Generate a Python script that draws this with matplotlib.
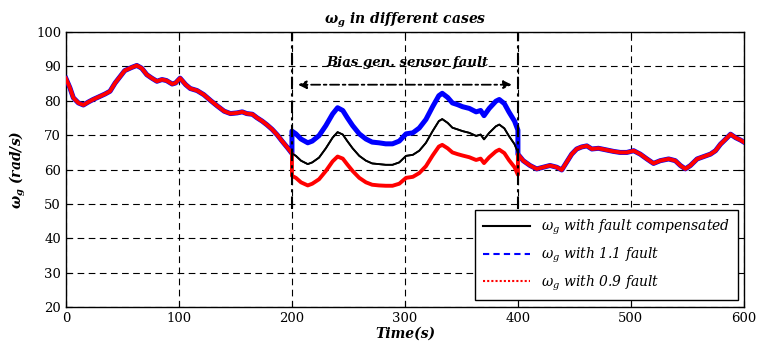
import numpy as np
import matplotlib
matplotlib.use("Agg")
import matplotlib.pyplot as plt
from matplotlib.lines import Line2D

plt.rcParams["font.family"] = ["DejaVu Serif"]
plt.rcParams["mathtext.fontset"] = "dejavuserif"

# before the fault (all three curves coincide)
t_pre = [0, 3.5, 6.5, 11, 15.4, 20, 24, 28.7, 34.6, 39, 43.5, 48, 52, 58, 62.7, 67, 71.6,
         76, 80.5, 85, 89, 94, 97, 101, 106, 110, 116, 122, 128, 134, 140, 145.6, 151.5,
         156, 160, 165, 169, 173.7, 178, 182.5, 187, 191, 196, 200]
w_pre = [86.5, 83.8, 80.9, 79.4, 78.8, 79.7, 80.4, 81.1, 82.0, 82.8, 85.2, 87.1, 88.8, 89.7,
         90.3, 89.5, 87.6, 86.6, 85.7, 86.2, 85.9, 84.9, 85.2, 86.6, 84.7, 83.6, 83.0, 81.8,
         80.1, 78.5, 77.0, 76.3, 76.5, 76.8, 76.3, 76.1, 75.1, 74.1, 73.0, 71.7, 70.1, 68.4,
         66.4, 64.7]

# fault window 200-400 s
t_fault = [200, 203.5, 208, 214, 218, 224, 230, 236, 240.4, 245, 249, 253.7, 259.6, 265.5,
           271, 277, 283, 289, 295, 301, 307, 312.7, 318.6, 324.5, 330, 333, 337.8, 342,
           346.6, 351, 357, 363, 367, 370, 374.6, 380.5, 383.5, 388, 392, 397, 400]
w_comp = [64.7, 64.0, 62.6, 61.6, 62.1, 63.5, 66.2, 69.3, 70.9, 70.2, 68.3, 66.2, 64.0, 62.6,
          61.8, 61.6, 61.4, 61.4, 62.1, 64.0, 64.3, 65.5, 67.8, 71.2, 74.1, 74.7, 73.6, 72.2,
          71.7, 71.2, 70.7, 69.8, 70.2, 68.8, 70.7, 72.6, 73.1, 72.0, 69.8, 67.4, 65.0]
w_hi = [71.2, 70.4, 68.9, 67.8, 68.3, 69.9, 72.8, 76.2, 78.0, 77.2, 75.1, 72.8, 70.4, 68.9,
        68.0, 67.8, 67.5, 67.5, 68.3, 70.4, 70.7, 72.1, 74.6, 78.3, 81.5, 82.2, 81.0, 79.4,
        78.9, 78.3, 77.8, 76.8, 77.2, 75.7, 77.8, 79.9, 80.4, 79.2, 76.8, 74.1, 71.5]
w_lo = [58.2, 57.6, 56.3, 55.4, 55.9, 57.2, 59.6, 62.4, 63.8, 63.2, 61.5, 59.6, 57.6, 56.3,
        55.6, 55.4, 55.3, 55.3, 55.9, 57.6, 57.9, 59.0, 61.0, 64.1, 66.7, 67.2, 66.2, 65.0,
        64.5, 64.1, 63.6, 62.8, 63.2, 61.9, 63.6, 65.3, 65.8, 64.8, 62.8, 60.7, 58.5]

# after the fault
t_post = [400, 404.7, 410.7, 416.6, 422.5, 428.4, 434.3, 438.8, 443, 447.6, 452, 456.5, 461,
          465.4, 471.3, 478.7, 484.6, 490.5, 496.4, 502.4, 508.3, 514.2, 520, 526, 533.4,
          539.3, 543.8, 548.2, 552.7, 558.6, 564.5, 570.4, 574.9, 579.3, 583.7, 588.2,
          592.6, 597, 600]
w_post = [64.5, 62.6, 61.2, 60.2, 60.7, 61.2, 60.7, 59.9, 62.1, 64.5, 66.0, 66.6, 66.9, 66.0,
          66.2, 65.7, 65.3, 65.0, 65.0, 65.5, 64.5, 63.1, 61.8, 62.6, 63.1, 62.6, 61.2, 60.2,
          61.2, 63.1, 63.8, 64.5, 65.5, 67.4, 68.8, 70.3, 69.3, 68.6, 68.0]

t_all = t_pre + t_fault + t_post
comp = w_pre + w_comp + w_post
hi = w_pre + w_hi + w_post
lo = w_pre + w_lo + w_post

fig = plt.figure(figsize=(7.6, 3.49), dpi=100)
ax = fig.add_axes([0.0868, 0.12, 0.892, 0.788])

ax.plot(t_all, comp, color="black", lw=1.3, zorder=3)
ax.plot(t_all, hi, color="blue", lw=3.6, zorder=4)
ax.plot(t_all, lo, color="red", lw=2.8, zorder=5)
# black line visible on top inside the fault window
ax.plot(t_fault, w_comp, color="black", lw=1.3, zorder=6)

ax.set_xlim(0, 600)
ax.set_ylim(20, 100)
ax.set_xticks(np.arange(0, 601, 100))
ax.set_yticks(np.arange(20, 101, 10))
ax.grid(True, color="black", linestyle=(0, (6, 4)), lw=0.8)
ax.tick_params(direction="in", top=True, right=True, labelsize=9.5, length=4)
for s in ax.spines.values():
    s.set_linewidth(1.0)

# fault markers
for xv in [200, 400]:
    ax.plot([xv, xv], [48.5, 100], color="black", lw=1.5,
            linestyle=(0, (6, 2, 1.5, 2)), zorder=7)
ax.annotate("", xy=(203, 84.7), xytext=(397, 84.7),
            arrowprops=dict(arrowstyle="<|-|>", color="black", lw=1.3,
                            linestyle=(0, (5, 2, 1.5, 2)), mutation_scale=12),
            zorder=7)
ax.text(302, 91.2, "Bias gen. sensor fault", ha="center", va="center",
        fontsize=9.5, fontweight="bold", fontstyle="italic")

wg_bold = r"$\mathbfit{\omega}_\mathbfit{g}$"
ax.set_title(wg_bold + " in different cases", fontsize=10,
             fontweight="bold", fontstyle="italic", pad=6)
ax.set_xlabel("Time(s)", fontsize=10, fontweight="bold", fontstyle="italic", labelpad=1)
ax.set_ylabel(wg_bold + " (rad/s)", fontsize=10, fontweight="bold",
              fontstyle="italic", labelpad=6)

handles = [Line2D([], [], color="black", lw=1.5),
           Line2D([], [], color="blue", lw=1.5, linestyle=(0, (3, 2))),
           Line2D([], [], color="red", lw=1.5, linestyle=(0, (1, 1)))]
labels = [r"$\omega_g$ with fault compensated", r"$\omega_g$ with 1.1 fault",
          r"$\omega_g$ with 0.9 fault"]
leg = ax.legend(handles, labels, loc="lower right", bbox_to_anchor=(0.991, 0.025),
                borderaxespad=0, fancybox=False, edgecolor="black", framealpha=1,
                prop=dict(family="DejaVu Serif", style="italic", size=10),
                handlelength=3.4, borderpad=0.55, labelspacing=0.6)
leg.get_frame().set_linewidth(1.0)
leg.set_zorder(10)

fig.savefig("out.png", dpi=100)
